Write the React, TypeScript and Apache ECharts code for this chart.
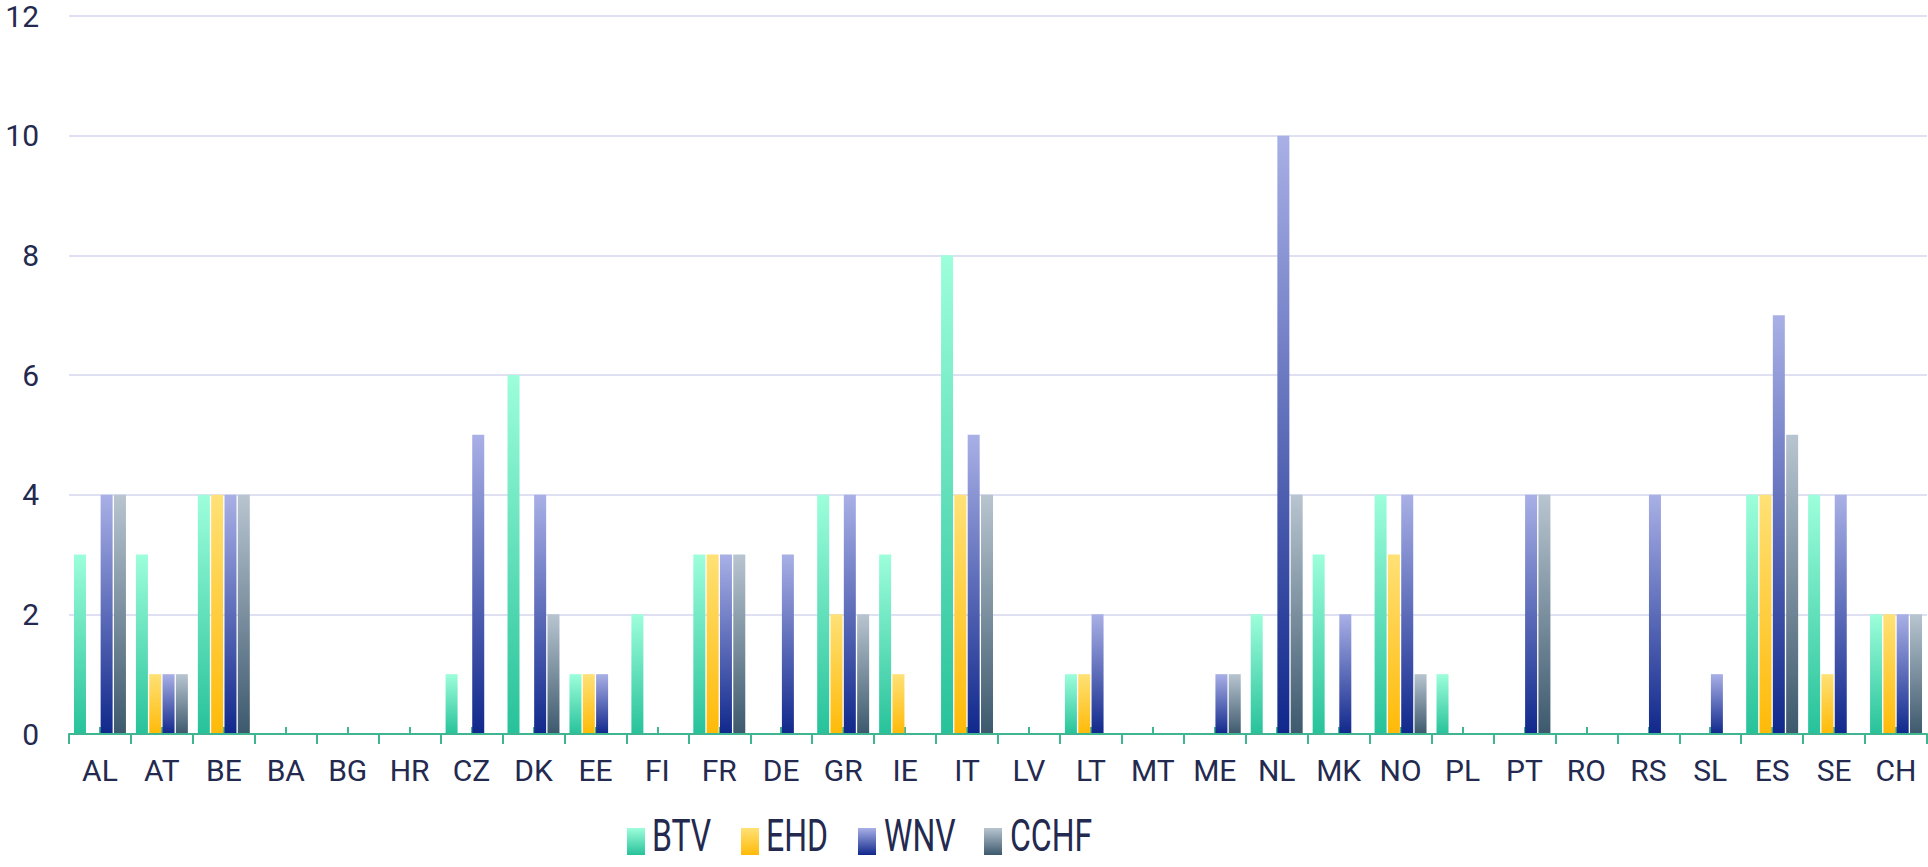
import React, { useEffect, useRef } from "react";
import * as echarts from "echarts";

const categories = ["AL","AT","BE","BA","BG","HR","CZ","DK","EE","FI","FR","DE","GR","IE","IT","LV","LT","MT","ME","NL","MK","NO","PL","PT","RO","RS","SL","ES","SE","CH"];
const btv =  [3,3,4,0,0,0,1,6,1,2,3,0,4,3,8,0,1,0,0,2,3,4,1,0,0,0,0,4,4,2];
const ehd =  [0,1,4,0,0,0,0,0,1,0,3,0,2,1,4,0,1,0,0,0,0,3,0,0,0,0,0,4,1,2];
const wnv =  [4,1,4,0,0,0,5,4,1,0,3,3,4,0,5,0,2,0,1,10,2,4,0,4,0,4,1,7,4,2];
const cchf = [4,1,4,0,0,0,0,2,0,0,3,0,2,0,4,0,0,0,1,4,0,1,0,4,0,0,0,5,0,2];
const yTicks = { min: 0, max: 12, interval: 2 };

const seriesDefs = [
  { name: "BTV", data: btv, top: "#9dfedb", bottom: "#27c29a" },
  { name: "EHD", data: ehd, top: "#ffe176", bottom: "#ffba08" },
  { name: "WNV", data: wnv, top: "#a9b0e6", bottom: "#10288c" },
  { name: "CCHF", data: cchf, top: "#b8c5d0", bottom: "#3d596d" },
];

// legend layout (icon left, text left)
const legendIconX = [627, 741, 858, 984];
const legendTextX = [652, 766, 884, 1010];

const textColor = "#242a4f";
const axisColor = "#3fb592";

export default function App() {
  const ref = useRef<HTMLDivElement>(null);
  useEffect(() => {
    document.body.style.margin = "0";
    const chart = echarts.init(ref.current!, null, { renderer: "svg" });
    chart.setOption({
      animation: false,
      grid: { left: 69, right: 1, top: 16, bottom: 133, containLabel: false },
      legend: seriesDefs.map((s, i) => ({
        left: legendIconX[i],
        top: 828,
        itemWidth: 18,
        itemHeight: 27,
        padding: 0,
        icon: "rect",
        formatter: () => "",
        textStyle: { fontSize: 1 },
        data: [s.name],
      })),
      graphic: seriesDefs.map((s, i) => ({
        type: "text",
        x: legendTextX[i],
        y: 836,
        scaleY: 1.38,
        style: {
          text: s.name,
          fontFamily: "Roboto",
          fontSize: 32,
          lineHeight: 24,
          fill: textColor,
          verticalAlign: "middle",
          align: "left",
        },
      })),
      xAxis: [
        {
          type: "category",
          data: categories,
          position: "bottom",
          axisLine: { lineStyle: { color: axisColor, width: 2 } },
          axisTick: { show: true, length: 10, lineStyle: { color: axisColor, width: 2 } },
          axisLabel: { interval: 0, fontFamily: "Roboto", fontSize: 30, color: textColor, margin: 21 },
          z: 3,
        },
        {
          type: "category",
          data: categories,
          position: "bottom",
          axisLine: { show: false },
          axisTick: { show: true, inside: true, alignWithLabel: true, length: 7, lineStyle: { color: axisColor, width: 2 } },
          axisLabel: { show: false },
          splitLine: { show: false },
          z: 1,
        },
      ],
      yAxis: {
        type: "value",
        min: yTicks.min,
        max: yTicks.max,
        interval: yTicks.interval,
        axisLine: { show: false },
        axisTick: { show: false },
        axisLabel: { fontFamily: "Roboto", fontSize: 30, color: textColor, margin: 30 },
        splitLine: { lineStyle: { color: "#dfe1f3", width: 2 } },
      },
      series: seriesDefs.map((s) => ({
        name: s.name,
        type: "bar",
        xAxisIndex: 0,
        data: s.data,
        barWidth: 12,
        barGap: "11%",
        itemStyle: {
          color: new echarts.graphic.LinearGradient(0, 0, 0, 1, [
            { offset: 0, color: s.top },
            { offset: 1, color: s.bottom },
          ]),
        },
      })),
    });
    return () => chart.dispose();
  }, []);
  return <div ref={ref} style={{ width: 1928, height: 867 }} />;
}
